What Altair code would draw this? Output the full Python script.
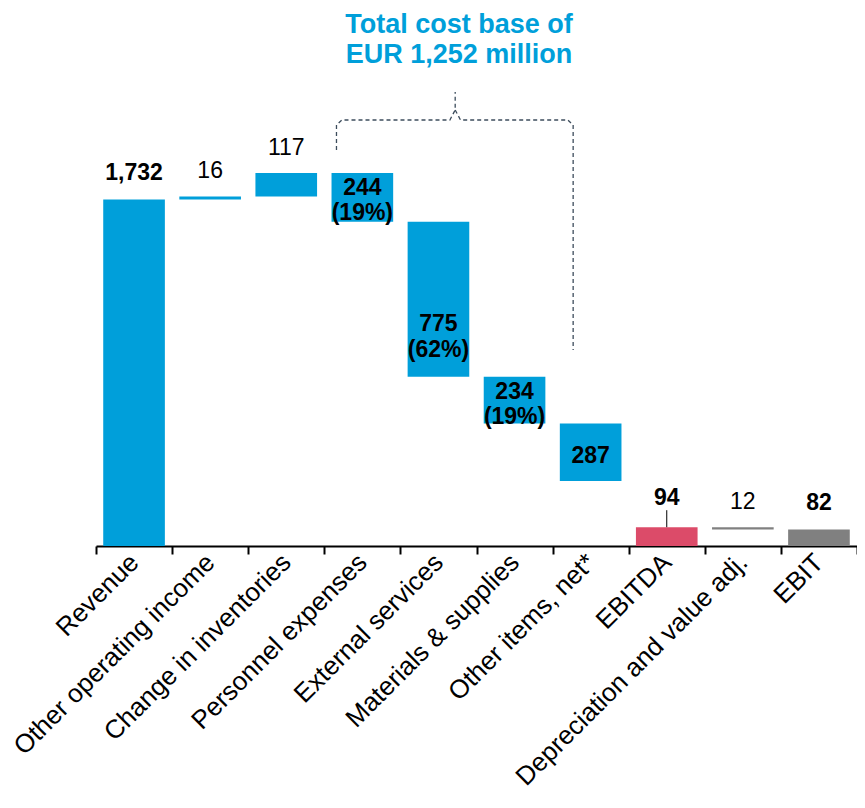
import altair as alt
import pandas as pd

categories = ["Revenue", "Other operating income", "Change in inventories",
              "Personnel expenses", "External services", "Materials & supplies",
              "Other items, net*", "EBITDA", "Depreciation and value adj.", "EBIT"]
amounts = [1732, 16, 117, -244, -775, -234, -287, 94, -12, 82]
kinds = ["total", "delta", "delta", "delta", "delta", "delta", "delta", "total", "delta", "total"]
label_texts = ["1,732", "16", "117", "244\n(19%)", "775\n(62%)", "234\n(19%)", "287", "94", "12", "82"]
label_styles = ["above_bold", "above", "above", "in_top", "in_bottom2", "in_top", "in_bottom",
                "above_leader", "above", "above_bold"]
colors = ["#009FDA"] * 7 + ["#DC4B69", "#808080", "#808080"]

# bracket annotation (x in band units, y in data units)
bracket_x = [3.16, 3.16, 3.23, 4.65, 4.72, 4.72, 4.72, 4.79, 6.2, 6.27, 6.27]
bracket_y = [1980, 2105, 2130, 2130, 2180, 2270, 2180, 2130, 2130, 2105, 980]
bracket_grp = ["a", "a", "a", "a", "a", "a", "b", "b", "b", "b", "b"]
title_lines = ["Total cost base of", "EUR 1,252 million"]
title_y = [2603, 2455]

rows = []
run = 0
for c, a, k, t, s, col in zip(categories, amounts, kinds, label_texts, label_styles, colors):
    if k == "total":
        start, end = 0, a
        run = a
    else:
        start, end = run, run + a
        run = end
    rows.append(dict(cat=c, start=start, end=end, hi=max(start, end), lo=min(start, end),
                     label=t, style=s, color=col))
df = pd.DataFrame(rows)
df["leader"] = df.apply(lambda r: r["hi"] + 85 if r["style"] == "above_leader" else None, axis=1)

FONT = "Liberation Sans"
W, H = 761, 538
ymax = 2690

xenc = alt.X("cat:N", sort=categories, title=None,
             scale=alt.Scale(paddingInner=0, paddingOuter=0, round=False),
             axis=alt.Axis(labelAngle=-45, labelFontSize=26, labelFont=FONT, labelColor="black",
                           labelAlign="right", labelBaseline="middle", labelPadding=4,
                           tickBand="extent", tickSize=8, tickColor="black", tickWidth=2,
                           domainColor="black", domainWidth=2, labelLimit=450, labelOverlap=False))
yscale = alt.Scale(domain=[0, ymax], nice=False, zero=True)

base = alt.Chart(df)
bars = base.mark_bar(width=alt.RelativeBandSize(0.81)).encode(
    x=xenc,
    y=alt.Y("start:Q", scale=yscale, axis=None),
    y2="end:Q",
    color=alt.Color("color:N", scale=None),
)

def txt(style, baseline, dy, bold, field, lh=26):
    return base.transform_filter(alt.datum.style == style).mark_text(
        font=FONT, fontSize=23, fontWeight="bold" if bold else "normal",
        baseline=baseline, dy=dy, lineBreak="\n", lineHeight=lh, color="black"
    ).encode(x=alt.X("cat:N", sort=categories), y=alt.Y(f"{field}:Q", scale=yscale), text="label:N")

t_above_b = txt("above_bold", "bottom", -15, True, "hi")
t_above_l = txt("above_leader", "bottom", 0, True, "leader")
t_above = txt("above", "bottom", -13, False, "hi")
t_top = txt("in_top", "top", 4, True, "hi", 25)
t_bot = txt("in_bottom", "bottom", -13, True, "lo")
t_bot2 = txt("in_bottom2", "bottom", -41, True, "lo")

leader = base.transform_filter("datum.leader != null").mark_rule(color="black", strokeWidth=1).encode(
    x=alt.X("cat:N", sort=categories), y=alt.Y("hi:Q", scale=yscale), y2="leader:Q")

bdf = pd.DataFrame(dict(bx=bracket_x, by=bracket_y, g=bracket_grp, o=list(range(len(bracket_x)))))
bracket = alt.Chart(bdf).mark_line(color="#3C4C5C", strokeWidth=1.3, strokeDash=[4, 3]).encode(
    x=alt.X("bx:Q", scale=alt.Scale(domain=[0, 10], nice=False, zero=False), axis=None),
    y=alt.Y("by:Q", scale=yscale),
    detail="g:N", order="o:Q")

tdf = pd.DataFrame(dict(tx=[4.77, 4.77], ty=title_y, t=title_lines))
title = alt.Chart(tdf).mark_text(font=FONT, fontSize=27, fontWeight="bold", color="#009FDA").encode(
    x=alt.X("tx:Q", scale=alt.Scale(domain=[0, 10], nice=False, zero=False), axis=None),
    y=alt.Y("ty:Q", scale=yscale), text="t:N")

main = alt.layer(bars, leader, t_above_b, t_above_l, t_above, t_top, t_bot, t_bot2)
extra = alt.layer(bracket, title)
chart = alt.layer(main, extra).resolve_scale(x="independent").properties(
    width=W, height=H,
    autosize=alt.AutoSizeParams(type="none"),
    padding={"left": 88, "top": 0, "right": 0, "bottom": 254},
).configure_view(stroke=None)

chart.save("out.html", embed_options={"renderer": "svg", "actions": False})
